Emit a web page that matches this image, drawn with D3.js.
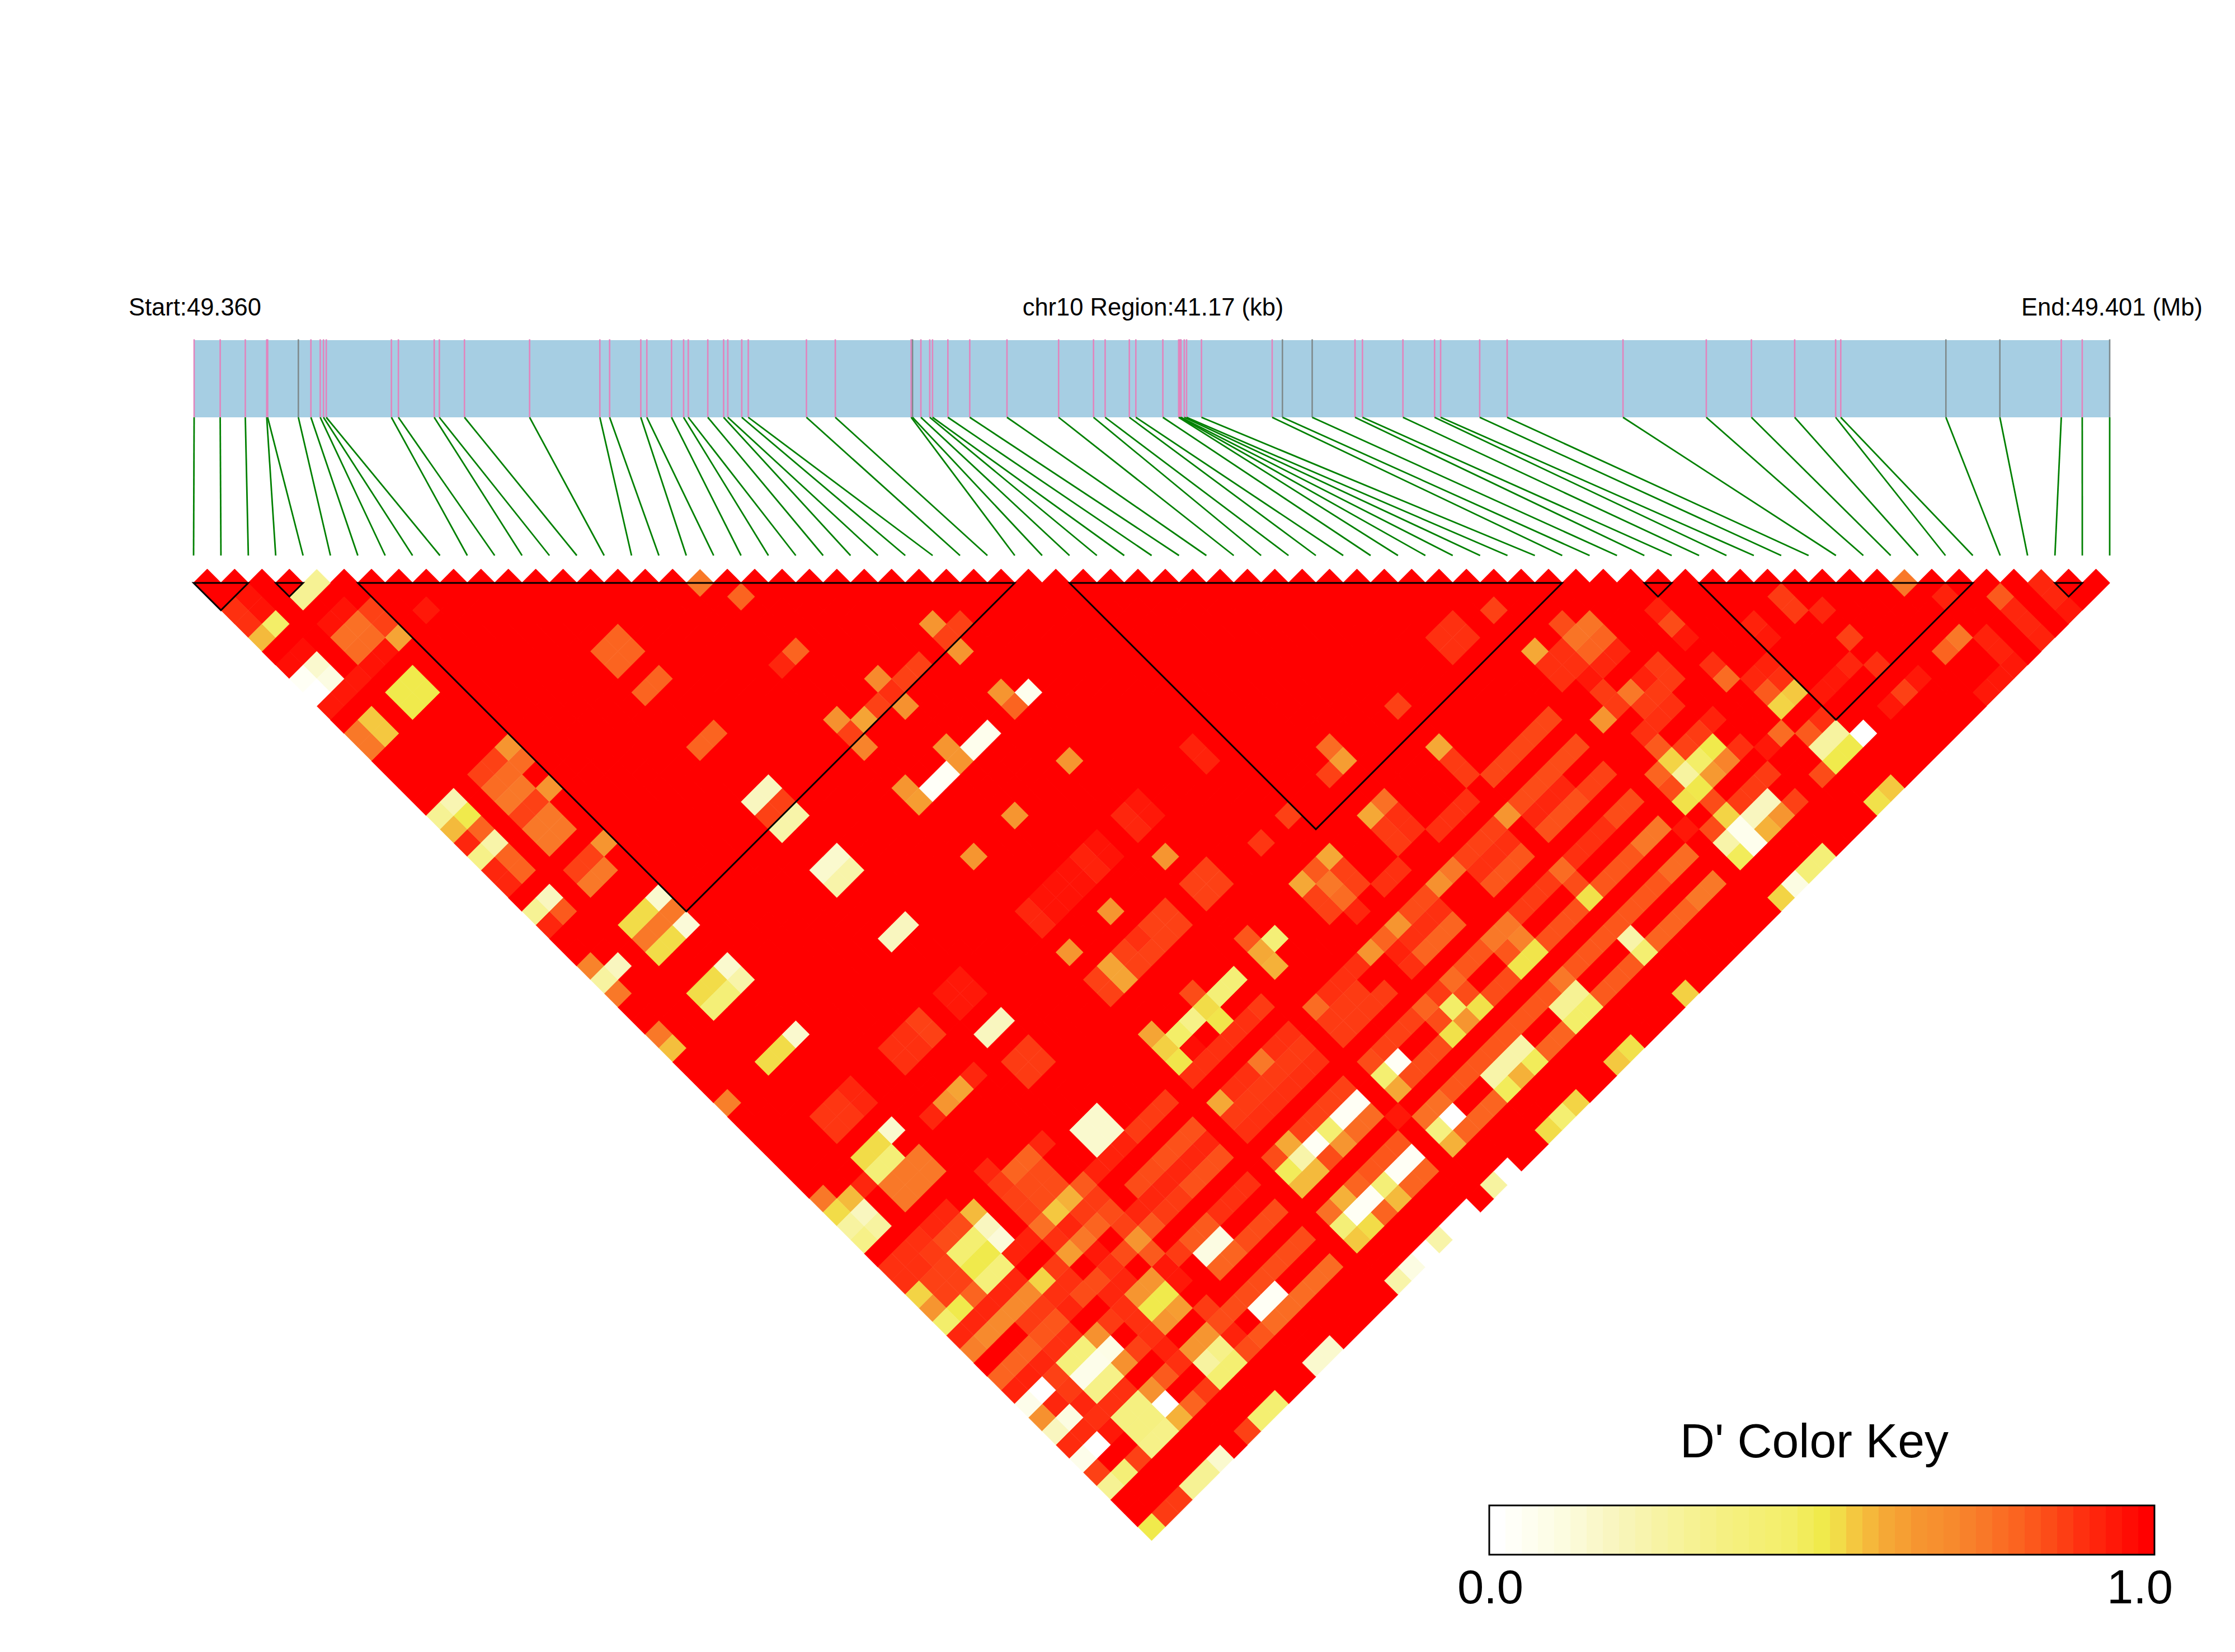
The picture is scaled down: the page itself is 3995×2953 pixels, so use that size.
<!DOCTYPE html>
<html><head><meta charset="utf-8">
<style>html,body{margin:0;padding:0;background:#fff}svg{display:block}text{font-family:"Liberation Sans",Arial,sans-serif;fill:#000}</style>
<script src="https://cdnjs.cloudflare.com/ajax/libs/d3/7.8.5/d3.min.js"></script>
</head><body><svg id="c" width="3995" height="2953"></svg>
<script>
// SNP positions along the region, kb from the start
const snpKb=[0,.56,1.10,1.56,1.58,2.24,2.51,2.71,2.78,2.84,4.24,4.39,5.16,5.27,5.81,7.21,8.72,8.93,9.60,9.73,10.26,10.52,10.62,11.04,11.38,11.47,11.77,11.91,13.16,13.78,15.41,15.44,15.62,15.81,15.87,16.20,16.67,17.47,18.58,19.33,19.58,20.10,20.24,20.82,21.16,21.19,21.21,21.28,21.33,21.65,23.17,23.39,24.03,24.95,25.11,25.98,26.66,26.79,27.63,28.22,30.71,32.50,33.47,34.40,35.28,35.39,37.65,38.81,40.13,40.58,41.17];
const greySnps=[5,31,51,52,66,67,70];
// LD blocks outlined in black: first and last SNP
const ldBlocks=[[0,2],[3,4],[6,30],[32,50],[53,54],[55,65],[68,69]];
// D' below 1, as runs: first i, last i, first j, last j, value. Everything else is 1.
const lowD=[
[18,18,19,19,.75],[3,4,5,5,.25],[19,19,21,21,.8],[0,0,3,4,.9],[1,1,3,4,.96],[1,1,5,5,.38],[0,0,5,5,.58],[0,1,7,7,.97],
[1,1,8,8,.12],[1,1,9,9,.08],[0,0,8,8,.03],[0,0,9,9,0],[0,2,10,10,.95],[3,4,7,7,.96],[3,4,8,8,.77],[3,4,9,9,.78],[3,4,10,10,.96],
[5,5,8,9,.87],[5,5,10,10,.63],[7,7,10,10,.95],[3,4,12,13,.42],[1,1,12,13,.55],[0,0,12,13,.75],
[12,13,18,19,.8],[12,13,21,21,.8],[12,13,25,25,.8],[5,5,18,18,.67],[5,5,19,19,.78],[3,4,18,18,.87],[3,4,19,19,.78],[3,4,20,20,.75],
[5,5,21,21,.67],[3,4,21,21,.87],[3,4,22,23,.75],[1,1,18,18,.18],[0,0,18,18,.25],[1,1,19,19,.42],[0,0,19,19,.58],[1,1,20,20,.8],[0,0,20,20,.92],
[1,1,21,21,.2],[0,0,21,21,.28],[1,1,22,23,.8],[0,0,22,23,.92],[5,5,25,25,.67],[3,4,25,25,.87],[3,4,26,26,.75],[1,1,25,25,.15],[0,0,25,25,.25],
[1,1,26,26,.82],[0,0,26,26,.92],[5,5,29,29,.12],[3,4,29,29,.5],[3,5,30,30,.75],[5,5,31,31,.1],[3,4,31,31,.5],[0,0,29,29,.72],[1,1,30,30,.15],
[0,0,30,30,.22],[0,0,31,31,.75],[5,5,34,34,.12],[5,5,35,35,.2],[3,4,34,34,.5],[3,4,35,35,.33],[0,0,34,34,.75],[0,0,35,35,.57],[5,5,39,39,.12],[3,4,39,39,.5],[0,0,39,39,.73],
[25,25,29,29,.67],[26,26,30,30,.87],[25,25,30,30,.87],[25,25,31,31,.67],[19,19,25,25,.8],[18,18,25,25,.92],[21,21,29,29,.7],[22,23,30,30,.87],[21,21,30,30,.9],
[21,21,31,31,.68],[20,20,30,30,.87],[19,19,30,30,.63],[18,18,29,29,.68],[18,18,30,30,.87],[18,18,31,31,.72],[25,25,34,34,.67],[26,26,35,35,.05],[25,25,35,35,.8],
[21,21,34,35,.67],[22,23,35,35,.05],[20,20,35,35,.03],[19,19,35,35,.02],[18,18,34,34,.67],[18,18,35,35,.65],[25,25,39,39,.67],[21,21,39,39,.67],[18,18,39,39,.67],
[25,25,46,46,.67],[21,21,46,46,.67],[18,18,46,46,.67],[12,13,29,29,.15],[12,13,30,30,.87],[12,13,31,31,.2],[12,13,34,34,.12],[12,13,35,35,.2],[12,13,39,39,.15],
[26,26,43,44,.95],[25,25,43,44,.92],[23,23,43,44,.96],[22,22,43,44,.93],[19,21,43,44,.96],[18,18,43,44,.92],[29,29,49,49,.89],[25,26,48,49,.87],[30,30,43,44,.93],
[22,23,48,49,.87],[21,21,48,48,.9],[21,21,49,49,.87],[20,20,48,49,.87],[19,19,48,49,.63],[18,18,48,49,.87],[12,13,43,44,.95],
[25,25,52,52,.83],[26,26,53,53,.33],[25,25,53,53,.62],[25,25,54,54,.6],[21,21,52,52,.85],[22,23,53,53,.33],[21,21,53,53,.5],[23,23,55,55,.88],
[8,9,43,44,.9],[10,10,43,44,.87],[12,13,46,46,.15],[12,13,48,49,.88],[10,10,47,47,.92],[9,9,47,47,.63],[8,8,47,47,.67],[7,7,47,47,.92],[5,5,43,44,.92],[3,4,43,44,.89],
[5,5,46,46,.12],[3,4,46,46,.5],[3,4,47,47,.33],[3,5,48,49,.75],[2,2,47,47,.92],[0,0,46,46,.75],[1,1,47,47,.58],[0,0,47,47,.5],[1,1,48,48,.15],[0,0,48,48,.22],[1,1,49,49,.22],[0,0,49,49,.28],
[3,4,51,51,.92],[2,2,51,51,.9],[0,1,51,51,.9],[0,1,52,52,.9],[2,2,52,52,.88],[3,4,52,52,.85],[5,5,52,52,.58],[5,5,53,53,.15],[5,5,54,54,.1],[3,4,53,53,.35],[3,4,54,54,.42],[3,4,55,55,.32],
[2,2,53,54,.87],[1,1,53,54,.87],[0,0,53,53,.52],[0,0,54,54,.67],[1,1,55,55,.42],[0,0,55,55,.37],[2,2,55,55,.8],[5,6,55,55,.93],[0,4,56,56,.92],
[1,4,57,57,.7],[0,0,57,57,.73],[5,5,57,57,.52],[3,4,58,58,.88],[5,6,58,58,.9],[8,8,58,58,.95],[10,10,58,58,.87],
[0,1,60,60,.93],[2,2,60,60,.92],[3,4,60,60,.9],[0,0,59,59,.8],[1,2,59,59,.8],[3,4,59,59,.83],[5,5,59,59,.92],[6,7,59,59,.85],[8,8,59,59,.9],[9,9,59,59,.85],[10,10,59,59,.67],[11,11,59,59,.82],[12,13,59,59,.88],
[3,4,61,61,.32],[3,4,62,62,.06],[3,4,63,63,.28],[5,5,62,62,.07],[5,5,61,61,.68],[5,5,63,63,.68],[0,0,61,61,.06],[1,1,61,61,0],[2,2,61,61,.87],[0,0,62,62,.68],[1,1,62,62,.92],[2,2,62,62,.88],[0,0,63,63,.15],[1,1,63,63,.08],[2,2,63,63,.92],
[0,1,64,64,.91],[2,3,64,64,.9],[4,4,64,64,.9],[0,0,65,65,.06],[1,1,65,65,0],[2,2,65,65,.95],[3,4,65,66,.3],[5,5,65,65,.68],[5,5,66,66,0],[5,5,67,67,.6],[6,6,67,67,.8],[3,4,67,67,.28],[0,0,66,66,.87],[0,0,67,67,.25],[1,1,67,67,.33],[2,2,67,67,.87],[7,7,67,67,.88],
[6,6,61,61,.88],[7,7,61,61,.9],[8,9,61,61,.67],[8,9,62,62,.42],[7,7,62,62,.9],[8,8,63,63,.67],[9,9,63,63,.65],[6,6,63,63,.87],[7,7,63,63,.9],[7,7,64,64,.93],[10,10,64,64,.88],[8,9,65,65,.67],[7,7,65,65,.9],[6,6,65,65,.82],[8,8,66,66,.22],[9,9,66,66,.28],[8,9,67,67,.35],[10,10,67,67,.85],[11,11,67,67,.83],
[7,7,51,51,.92],[7,7,52,52,.88],[8,9,52,52,.8],[10,10,52,52,.92],[8,9,53,54,.85],[9,9,55,55,.6],[8,8,55,55,.55],[10,10,55,55,.82],[7,7,53,54,.87],[7,7,55,55,.77],[11,13,55,55,.93],[7,7,56,56,.9],[8,8,56,56,.92],[9,10,56,56,.88],
[7,7,57,57,.65],[8,8,57,57,.75],[9,9,57,57,.8],[10,10,57,57,.85],[6,6,57,57,.88],[12,13,53,54,.12],[7,7,60,60,.92],[8,8,60,60,.92],[10,10,60,60,.82],[10,10,61,61,.95],[11,11,61,61,.88],[12,13,61,61,.82],[12,13,62,62,.08],[12,13,63,63,.8],[10,10,62,62,.95],
[14,16,55,55,.88],[14,16,57,57,.84],[12,13,57,57,.85],[11,16,58,58,.92],[14,16,59,59,.84],[14,16,61,61,.9],[14,16,63,63,.85],[10,16,65,65,.85],[12,13,66,66,.03],[12,16,67,67,.78],[10,10,66,66,.93],
[18,18,52,52,.63],[18,18,53,53,.53],[18,18,54,54,.45],[19,19,53,53,.38],[20,20,53,53,.28],[21,21,54,54,.45],[19,19,54,54,.97],[18,20,55,55,.9],[21,22,55,55,.9],[18,18,57,57,.62],[19,20,57,57,.9],[21,21,57,57,.75],[22,23,57,57,.9],
[18,23,58,58,.88],[18,23,59,59,.9],[25,25,57,57,.78],[25,28,59,59,.88],[25,27,58,58,.88],[26,28,57,57,.9],
[18,18,61,61,.85],[19,19,61,61,.62],[20,23,61,61,.87],[22,23,62,62,.03],[21,21,62,62,.35],[20,20,62,62,.03],[19,19,62,62,.2],[18,18,62,62,.4],[22,23,63,63,.78],[21,21,63,63,.67],[20,20,63,63,.85],[18,19,63,63,.58],
[24,24,64,64,.95],[21,23,65,65,.83],[20,20,65,65,.8],[19,19,65,65,.6],[18,18,65,65,.77],[22,23,66,66,.03],[21,21,66,66,.33],[20,20,66,66,.03],[19,19,66,66,.03],[18,18,66,66,.33],[22,23,67,67,.8],[21,21,67,67,.58],[20,20,67,67,.8],[19,19,67,67,.5],[18,18,67,67,.55],
[25,25,61,61,.85],[26,28,61,61,.87],[25,25,62,62,.35],[26,26,62,62,.03],[25,25,63,63,.62],[26,28,63,63,.85],[25,26,65,65,.77],[27,34,65,65,.83],[35,35,65,65,.75],[26,26,66,66,0],[25,25,66,66,.3],[25,25,67,67,.6],[26,28,67,67,.8],
[29,31,66,66,.2],[31,31,67,67,.4],[30,30,67,67,.6],[29,29,67,67,.4],[32,33,67,67,.8],[34,35,66,66,.25],[34,35,67,67,.38],
[29,29,61,61,.8],[30,30,61,61,.88],[31,31,61,61,.78],[29,29,62,62,.85],[30,30,62,62,.38],[31,31,62,62,.85],[29,29,63,63,.47],[30,30,63,63,.67],[31,31,63,63,.47],[32,33,63,63,.85],[32,33,61,61,.83],[34,35,61,61,.75],[34,34,62,62,.83],[35,35,62,62,.72],[34,35,63,63,.45],
[36,38,61,61,.88],[39,39,61,61,.78],[39,39,62,62,.85],[39,39,63,63,.47],[36,38,63,63,.84],[40,42,61,61,.9],[43,44,61,61,.85],[40,42,63,63,.83],[43,44,63,63,.75],[36,42,65,65,.83],[43,44,65,65,.78],[39,39,66,66,.2],[39,39,67,67,.35],[36,38,67,67,.82],[40,42,67,67,.8],[43,44,67,67,.75],
[29,29,52,52,.62],[30,30,52,52,.82],[31,31,52,52,.62],[30,30,53,53,.75],[30,30,54,54,.78],[31,31,53,54,.87],[29,29,53,54,.87],[30,30,55,55,.92],[32,33,55,55,.9],[34,34,52,52,.62],[35,35,52,52,.77],[35,35,53,54,.9],[34,34,53,54,.88],[36,38,55,55,.9],[39,39,52,52,.62],[39,39,53,54,.88],
[40,44,55,55,.86],[35,35,57,57,.75],[34,34,57,57,.68],[36,38,57,57,.87],[39,39,57,57,.67],[40,44,57,57,.85],[32,33,57,57,.85],[31,31,57,57,.67],[30,30,57,57,.8],[29,29,57,57,.67],
[36,38,58,58,.9],[36,38,59,59,.83],[40,42,58,58,.92],[40,42,59,59,.84],[43,44,59,59,.87],[31,33,58,58,.9],[32,33,59,59,.8],[31,31,59,59,.8],[30,30,58,58,.93],[30,30,59,59,.9],
[46,46,49,49,.87],[43,44,48,49,.9],[39,39,49,49,.87],[35,35,48,48,.78],[35,35,49,49,.65],[34,34,49,49,.87],[31,31,49,49,.87],
[48,48,52,52,.85],[48,49,53,53,.76],[48,49,54,54,.8],[48,49,55,55,.92],[46,46,52,52,.62],[46,47,53,54,.9],[47,47,55,55,.95],[47,47,56,57,.88],[46,46,57,57,.67],[48,48,57,57,.75],[49,49,57,57,.93],[50,50,57,57,.88],[48,50,58,58,.88],[47,49,59,59,.9],
[52,52,55,55,.93],[52,52,56,56,.85],[52,52,57,57,.95],[52,52,59,59,.9],[52,52,60,60,.78],[55,55,59,59,.93],[55,55,60,60,.95],[54,54,61,61,.93],[53,53,61,61,.92],[54,54,62,62,.9],[53,53,62,62,.82],[54,54,63,63,.55],[53,53,63,63,.52],
[57,57,59,60,.88],[58,58,61,61,.92],[50,50,61,61,.93],[49,49,61,61,.88],[48,48,61,61,.87],[47,47,60,60,.82],[47,47,61,61,.52],[49,49,62,62,.42],[48,48,62,62,.38],[47,47,62,62,.22],[46,46,61,61,.8],[46,46,62,62,.85],[47,47,63,63,.43],[46,46,63,63,.47],[49,49,63,63,.72],[48,48,63,63,.66],
[50,50,63,63,.9],[51,51,64,64,.95],[52,52,64,64,.78],[48,50,65,65,.88],[47,47,65,65,.52],[47,47,64,64,.85],[45,45,64,64,.95],[46,46,65,65,.85],[47,47,66,67,.05],[48,49,66,66,.15],[49,49,67,67,.67],[48,48,67,67,.6],[50,50,67,67,.87],[46,46,66,66,.2],[46,46,67,67,.4],
[58,58,63,63,.87],[57,57,64,64,.92],[58,58,65,65,.9],[55,56,64,64,.95],[62,62,63,63,.75],[63,63,65,65,.93],[62,62,67,67,.75],[61,61,67,67,.8],[65,65,67,67,.82],[65,65,68,69,.92],[65,65,70,70,.93],[67,67,68,69,.92],[67,67,70,70,.95],[63,63,68,69,.93],[61,63,70,70,.95],
[59,59,67,67,.95],[58,58,67,67,.87],[57,57,67,67,.95],[55,55,67,67,0],[54,54,67,67,.42],[54,54,66,66,.22],[53,53,66,66,.22],[53,53,67,67,.42],[52,52,67,67,.85],[53,53,65,65,.82],[54,54,65,65,.9],
// right-hand edge, j = 70
[0,0,70,70,.42],[1,2,70,70,.88],[3,4,70,70,.25],[5,5,70,70,.12],[7,7,70,70,.87],[8,9,70,70,.35],[12,13,70,70,.12],[18,18,70,70,.2],[19,19,70,70,.08],[20,20,70,70,0],[21,21,70,70,.2],[22,23,70,70,0],[25,25,70,70,.22],[26,26,70,70,0],[29,29,70,70,.5],[30,30,70,70,.35],[31,31,70,70,.52],[34,34,70,70,.55],[35,35,70,70,.47],[39,39,70,70,.53],[46,46,70,70,.52],[47,47,70,70,.08],[48,49,70,70,.33],[53,53,70,70,.47],[54,54,70,70,.55]
];
const colorAt=[0,.03,.08,.15,.22,.3,.38,.42,.5,.55,.62,.67,.75,.8,.85,.9,.95,1];
const colorHex=["#ffffff","#fffff5","#fcfce2","#f9f6bf","#f7f3a0","#f5f080","#f3ee68","#f0ea4c","#f2dc48","#f4c840","#f5a836","#f69530","#f97828","#fb6420","#fc4c18","#fe3010","#ff1808","#ff0000"];
// colour key: the value shown by each step position
const keySteps=d3.range(41).map(k=>k/40);
const keyPos=[0,.5,.525,.55,.6,.65,.7,.75,.8,.85,.9,.95,1];
const keyVal=[0,.42,.5,.55,.62,.67,.7,.75,.8,.85,.9,.95,1];
const keyLabels=["0.0","1.0"];

const svg=d3.select("#c");
const n=snpKb.length;
const color=d3.scaleLinear().domain(colorAt).range(colorHex);
const xIdx=d3.scaleLinear().domain([0,n-1]).range([346,3771]);
const xKb=d3.scaleLinear().domain([0,41.17]).range([347,3771]);
const yRow=d3.scaleLinear().domain([1,n-1]).range([1042,2729.5]);
const half=(xIdx(1)-xIdx(0))/2;

const D=[];for(let i=0;i<n;i++){D[i]=[];for(let j=i+1;j<n;j++)D[i][j]=1;}
lowD.forEach(([a,b,c,e,v])=>{for(let i=a;i<=b;i++)for(let j=c;j<=e;j++)D[i][j]=v;});
const cells=[];for(let i=0;i<n;i++)for(let j=i+1;j<n;j++)cells.push({i,j,v:D[i][j]});
cells.sort((p,q)=>q.v-p.v);

// gene bar
svg.append("rect").attr("x",xKb(0)-1).attr("y",608).attr("width",xKb(41.17)-xKb(0)+2).attr("height",138).attr("fill","#a6cee3");
svg.selectAll(".snp").data(snpKb).join("line").attr("class","snp")
 .attr("x1",d=>xKb(d)).attr("x2",d=>xKb(d)).attr("y1",606.5).attr("y2",746)
 .attr("stroke",(d,i)=>greySnps.includes(i)?"#7f8a8c":"#e284bd").attr("stroke-width",2.6);
svg.selectAll(".lnk").data(snpKb).join("line").attr("class","lnk")
 .attr("x1",d=>xKb(d)).attr("y1",746).attr("x2",(d,i)=>xIdx(i)).attr("y2",993)
 .attr("stroke","#008000").attr("stroke-width",2.8);

// heatmap cells: red ones first with a wider same-colour stroke so no seams show
svg.append("g").selectAll("path").data(cells).join("path")
 .attr("d",c=>{const cx=xIdx((c.i+c.j)/2),cy=yRow(c.j-c.i);return `M${cx},${cy-half}L${cx+half},${cy}L${cx},${cy+half}L${cx-half},${cy}Z`;})
 .attr("fill",c=>color(c.v)).attr("stroke",c=>color(c.v)).attr("stroke-width",c=>c.v===1?1.2:.6).attr("stroke-linejoin","bevel");

// block outlines
svg.append("g").selectAll("path").data(ldBlocks).join("path")
 .attr("d",([a,b])=>`M${xIdx(a)},${yRow(1)}L${xIdx(b)},${yRow(1)}L${xIdx((a+b)/2)},${yRow(1)+(b-a)*half}Z`)
 .attr("fill","none").attr("stroke","#000").attr("stroke-width",3).attr("stroke-linejoin","miter");

// labels
const lab=(x,y,s,t,a)=>svg.append("text").attr("x",x).attr("y",y).attr("font-size",s).attr("text-anchor",a).text(t);
lab(230,564,43.5,"Start:49.360","start");
lab(2061,564,43.5,"chr10 Region:41.17 (kb)","middle");
lab(3937,564,43.5,"End:49.401 (Mb)","end");

// colour key
const keyX=d3.scaleLinear().domain([0,1]).range([2662,3851]);
const keyColor=d3.scaleLinear().domain(keyPos).range(keyVal);
const stepW=(keyX(1)-keyX(0))/41;
svg.append("g").selectAll("rect").data(keySteps).join("rect")
 .attr("x",(d,k)=>keyX(0)+k*stepW).attr("y",2691).attr("width",stepW+.5).attr("height",88)
 .attr("fill",d=>color(keyColor(d)));
svg.append("rect").attr("x",keyX(0)).attr("y",2691).attr("width",keyX(1)-keyX(0)).attr("height",88).attr("fill","none").attr("stroke","#000").attr("stroke-width",3);
lab(3243,2605,86,"D' Color Key","middle");
lab(2664,2866,85,keyLabels[0],"middle");
lab(3825,2866,85,keyLabels[1],"middle");
</script></body></html>
